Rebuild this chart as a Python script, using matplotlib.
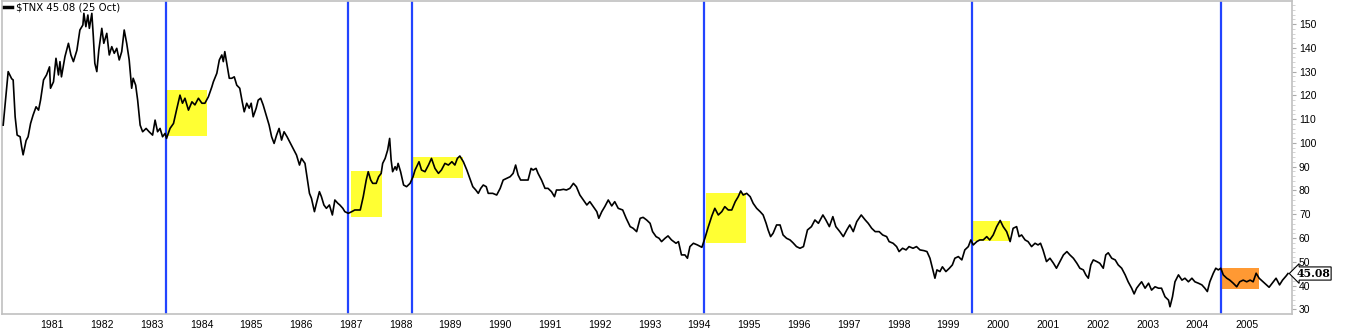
import matplotlib
matplotlib.use('Agg')
import matplotlib.pyplot as plt
from matplotlib.patches import Rectangle
from matplotlib.ticker import MultipleLocator

# $TNX (10y yield x10); x in decimal years
years = [
    1980.02, 1980.12, 1980.19, 1980.22, 1980.26, 1980.30, 1980.36, 1980.39, 1980.42, 1980.48,
    1980.52, 1980.57, 1980.62, 1980.68, 1980.73, 1980.77, 1980.83, 1980.89, 1980.95, 1980.97,
    1981.03, 1981.08, 1981.13, 1981.16, 1981.19, 1981.26, 1981.33, 1981.38, 1981.43, 1981.50,
    1981.56, 1981.62, 1981.64, 1981.68, 1981.72, 1981.75, 1981.80, 1981.83, 1981.86, 1981.90,
    1981.94, 1982.00, 1982.04, 1982.10, 1982.15, 1982.20, 1982.25, 1982.30, 1982.35, 1982.40,
    1982.45, 1982.50, 1982.55, 1982.60, 1982.63, 1982.68, 1982.72, 1982.77, 1982.82, 1982.89,
    1982.95, 1983.02, 1983.07, 1983.12, 1983.17, 1983.22, 1983.27, 1983.30, 1983.37, 1983.44,
    1983.50, 1983.57, 1983.62, 1983.67, 1983.74, 1983.81, 1983.87, 1983.94, 1984.01, 1984.07,
    1984.14, 1984.21, 1984.24, 1984.31, 1984.36, 1984.41, 1984.44, 1984.47, 1984.51, 1984.56,
    1984.61, 1984.66, 1984.71, 1984.77, 1984.82, 1984.86, 1984.91, 1984.96, 1985.00, 1985.04,
    1985.10, 1985.14, 1985.19, 1985.24, 1985.31, 1985.36, 1985.41, 1985.46, 1985.51, 1985.56,
    1985.61, 1985.66, 1985.72, 1985.79, 1985.86, 1985.91, 1985.97, 1986.01, 1986.08, 1986.11,
    1986.17, 1986.21, 1986.27, 1986.31, 1986.37, 1986.41, 1986.46, 1986.51, 1986.57, 1986.63,
    1986.68, 1986.74, 1986.78, 1986.84, 1986.88, 1986.95, 1987.02, 1987.08, 1987.19, 1987.25,
    1987.31, 1987.35, 1987.40, 1987.44, 1987.51, 1987.56, 1987.61, 1987.64, 1987.69, 1987.74,
    1987.78, 1987.81, 1987.84, 1987.89, 1987.92, 1987.95, 1988.00, 1988.06, 1988.12, 1988.19,
    1988.25, 1988.29, 1988.37, 1988.42, 1988.49, 1988.56, 1988.62, 1988.69, 1988.76, 1988.82,
    1988.89, 1988.96, 1989.03, 1989.09, 1989.14, 1989.19, 1989.26, 1989.33, 1989.39, 1989.45,
    1989.51, 1989.56, 1989.61, 1989.66, 1989.72, 1989.76, 1989.85, 1989.93, 1990.00, 1990.06,
    1990.13, 1990.20, 1990.26, 1990.31, 1990.36, 1990.41, 1990.50, 1990.56, 1990.62, 1990.66,
    1990.72, 1990.76, 1990.83, 1990.90, 1990.96, 1991.03, 1991.09, 1991.13, 1991.20, 1991.27,
    1991.33, 1991.40, 1991.47, 1991.53, 1991.60, 1991.67, 1991.74, 1991.80, 1991.87, 1991.94,
    1991.98, 1992.04, 1992.10, 1992.17, 1992.24, 1992.30, 1992.37, 1992.46, 1992.53, 1992.61,
    1992.67, 1992.74, 1992.81, 1992.87, 1992.94, 1993.01, 1993.06, 1993.13, 1993.19, 1993.24,
    1993.31, 1993.37, 1993.44, 1993.53, 1993.58, 1993.64, 1993.71, 1993.76, 1993.81, 1993.88,
    1993.96, 1994.05, 1994.11, 1994.18, 1994.25, 1994.31, 1994.38, 1994.45, 1994.51, 1994.58,
    1994.65, 1994.72, 1994.78, 1994.83, 1994.88, 1994.95, 1995.02, 1995.08, 1995.15, 1995.22,
    1995.28, 1995.34, 1995.38, 1995.43, 1995.48, 1995.55, 1995.62, 1995.68, 1995.75, 1995.82,
    1995.88, 1995.95, 1996.02, 1996.09, 1996.17, 1996.25, 1996.32, 1996.39, 1996.48, 1996.54,
    1996.61, 1996.68, 1996.74, 1996.82, 1996.89, 1996.96, 1997.02, 1997.09, 1997.16, 1997.25,
    1997.33, 1997.39, 1997.46, 1997.53, 1997.61, 1997.68, 1997.76, 1997.81, 1997.89, 1997.96,
    1998.01, 1998.08, 1998.15, 1998.21, 1998.29, 1998.36, 1998.43, 1998.51, 1998.57, 1998.63,
    1998.68, 1998.73, 1998.77, 1998.83, 1998.88, 1998.95, 1999.02, 1999.08, 1999.13, 1999.20,
    1999.27, 1999.33, 1999.40, 1999.45, 1999.50, 1999.57, 1999.63, 1999.70, 1999.77, 1999.83,
    1999.90, 1999.97, 2000.04, 2000.10, 2000.17, 2000.24, 2000.30, 2000.37, 2000.42, 2000.47,
    2000.54, 2000.60, 2000.67, 2000.74, 2000.80, 2000.85, 2000.90, 2000.97, 2001.04, 2001.11,
    2001.17, 2001.24, 2001.31, 2001.38, 2001.44, 2001.51, 2001.58, 2001.64, 2001.71, 2001.76,
    2001.81, 2001.86, 2001.91, 2001.98, 2002.04, 2002.11, 2002.16, 2002.21, 2002.28, 2002.35,
    2002.41, 2002.48, 2002.55, 2002.61, 2002.68, 2002.73, 2002.78, 2002.83, 2002.88, 2002.95,
    2003.02, 2003.08, 2003.15, 2003.22, 2003.28, 2003.35, 2003.42, 2003.45, 2003.50, 2003.55,
    2003.62, 2003.69, 2003.75, 2003.82, 2003.89, 2003.95, 2004.02, 2004.09, 2004.15, 2004.20,
    2004.25, 2004.32, 2004.37, 2004.42, 2004.47, 2004.52, 2004.59, 2004.65, 2004.72, 2004.79,
    2004.85, 2004.92, 2004.99, 2005.06, 2005.12, 2005.18, 2005.24, 2005.32, 2005.39, 2005.44,
    2005.51, 2005.58, 2005.65, 2005.71, 2005.78, 2005.82,
]
tnx = [
    107.5, 130.0, 127.0, 126.5, 111.0, 103.3, 102.6, 98.4, 95.0, 101.0,
    102.6, 108.2, 111.7, 115.2, 113.8, 118.0, 126.5, 128.6, 132.0, 123.0,
    125.7, 135.6, 128.6, 134.2, 127.8, 136.3, 141.9, 137.0, 134.2, 139.0,
    147.5, 149.6, 154.5, 148.9, 153.8, 148.2, 154.5, 144.7, 133.5, 130.0,
    139.0, 148.2, 141.9, 146.1, 137.0, 140.5, 137.7, 139.8, 134.9, 138.4,
    147.5, 141.9, 134.9, 123.0, 127.2, 124.3, 118.0, 107.5, 104.7, 106.1,
    104.7, 103.3, 109.6, 104.7, 106.1, 102.6, 104.0, 101.9, 106.1, 108.2,
    113.8, 120.1, 116.7, 118.8, 113.8, 117.3, 116.0, 118.8, 116.7, 116.7,
    119.4, 123.6, 125.7, 129.3, 134.9, 137.0, 134.2, 138.4, 133.5, 127.2,
    127.2, 127.8, 124.3, 123.0, 117.3, 113.1, 116.7, 114.6, 116.7, 111.0,
    114.6, 118.0, 118.8, 116.0, 111.0, 107.5, 102.6, 99.8, 103.3, 106.1,
    101.2, 104.7, 102.6, 99.8, 97.0, 94.9, 90.7, 93.5, 91.4, 87.2,
    78.8, 76.7, 71.1, 74.6, 79.5, 77.4, 73.9, 72.5, 73.9, 69.7,
    76.0, 74.6, 73.9, 72.5, 71.1, 70.4, 71.1, 71.8, 71.8, 77.4,
    84.4, 87.9, 84.4, 83.0, 83.0, 85.8, 87.2, 91.4, 93.5, 97.0,
    101.9, 92.8, 87.9, 90.0, 88.6, 91.4, 87.9, 82.3, 81.6, 83.0,
    85.8, 88.6, 92.1, 88.6, 87.9, 90.7, 93.5, 89.3, 87.2, 88.6,
    91.4, 90.7, 92.1, 90.7, 93.5, 94.5, 92.1, 88.6, 85.1, 81.6,
    80.2, 78.8, 80.9, 82.3, 81.6, 78.8, 78.8, 78.1, 80.9, 84.4,
    85.1, 85.8, 87.2, 90.7, 86.5, 84.4, 84.4, 84.4, 89.3, 88.6,
    89.3, 87.2, 84.4, 80.9, 80.9, 79.5, 77.4, 80.2, 80.2, 80.5,
    80.2, 80.9, 83.0, 81.6, 78.1, 76.0, 73.9, 75.3, 73.2, 71.1,
    68.3, 71.1, 73.2, 76.0, 73.5, 75.3, 72.5, 71.8, 68.3, 64.8,
    64.1, 62.7, 68.3, 68.7, 67.6, 66.2, 62.7, 60.6, 59.9, 58.5,
    59.9, 60.9, 59.2, 57.8, 58.5, 52.9, 52.9, 51.5, 56.4, 57.8,
    57.1, 56.1, 59.9, 64.8, 69.3, 72.5, 69.7, 71.1, 73.2, 71.8,
    71.8, 75.3, 77.4, 79.8, 78.1, 78.8, 77.4, 74.6, 72.5, 71.1,
    69.7, 66.2, 63.4, 60.6, 62.0, 65.5, 65.5, 61.3, 59.9, 59.2,
    58.0, 56.4, 55.7, 56.4, 63.4, 64.8, 67.6, 66.2, 69.7, 67.6,
    64.8, 69.0, 64.8, 62.7, 60.6, 63.4, 65.5, 62.7, 66.9, 69.7,
    67.6, 66.2, 64.1, 62.7, 62.7, 61.3, 60.6, 58.5, 57.8, 56.4,
    54.3, 55.7, 55.0, 56.4, 55.7, 56.4, 55.0, 54.7, 54.3, 51.5,
    47.3, 43.1, 46.6, 45.9, 47.9, 45.9, 47.3, 48.7, 51.5, 52.2,
    50.8, 55.0, 56.4, 59.2, 57.1, 58.5, 59.2, 59.2, 60.6, 59.2,
    61.3, 64.8, 67.4, 64.8, 62.7, 58.5, 64.1, 64.8, 60.6, 61.3,
    59.2, 58.5, 56.4, 57.8, 57.1, 57.8, 55.0, 50.1, 51.5, 49.4,
    47.3, 50.1, 52.9, 54.3, 52.9, 51.5, 49.4, 47.3, 46.6, 44.5,
    43.1, 48.7, 50.8, 50.1, 49.4, 47.3, 52.9, 53.8, 51.5, 50.8,
    48.7, 47.3, 44.5, 41.6, 38.9, 36.5, 38.9, 40.3, 41.6, 38.9,
    41.0, 38.1, 39.5, 38.9, 38.9, 35.3, 33.9, 31.1, 35.3, 41.6,
    44.5, 42.3, 43.1, 41.6, 43.1, 41.6, 41.0, 40.3, 38.9, 37.5,
    41.6, 45.2, 47.3, 46.6, 47.3, 44.5, 43.1, 42.3, 41.0, 39.5,
    41.6, 42.3, 41.6, 42.3, 41.6, 45.2, 43.1, 41.6, 40.3, 39.3,
    41.2, 43.1, 40.3, 42.3, 44.0, 45.08,
]

last_value = 45.08
legend_label = '$TNX 45.08 (25 Oct)'

# blue vertical markers
vline_years = [1983.29, 1986.94, 1988.22, 1994.09, 1999.47, 2004.47]

# highlighted boxes
box_start = [1983.30, 1987.00, 1988.23, 1994.13, 1999.50, 2004.47]
box_end = [1984.11, 1987.62, 1989.25, 1994.93, 2000.24, 2005.24]
box_low = [103.0, 68.7, 85.4, 57.9, 58.7, 38.6]
box_high = [122.2, 88.3, 94.1, 78.9, 67.3, 47.5]
box_colors = ['#ffff33', '#ffff33', '#ffff33', '#ffff33', '#ffff33', '#ff9933']

year_ticks = list(range(1981, 2006))
y_ticks = list(range(30, 151, 10))

fig = plt.figure(figsize=(13.49, 3.30), dpi=100)
ax = fig.add_axes([2 / 1349, 16 / 330, 1290 / 1349, 313 / 330])

for x0, x1, lo, hi, c in zip(box_start, box_end, box_low, box_high, box_colors):
    ax.add_patch(Rectangle((x0, lo), x1 - x0, hi - lo, facecolor=c, edgecolor='none', zorder=1))

for xv in vline_years:
    ax.axvline(xv, color='#2244ff', lw=1.6, zorder=2)

ax.plot(years, tnx, color='black', lw=1.2, zorder=3, label=legend_label)

ax.set_xlim(1979.996, 2005.90)
ax.set_ylim(28.05, 159.7)

ax.yaxis.tick_right()
ax.set_yticks(y_ticks)
ax.set_yticklabels([str(v) for v in y_ticks], fontsize=7.5, family='Liberation Sans')
ax.yaxis.set_minor_locator(MultipleLocator(2))
ax.tick_params(axis='y', which='major', length=3, color='#aaaaaa', pad=2)
ax.tick_params(axis='y', which='minor', length=2, color='#cccccc')

ax.set_xticks(year_ticks)
ax.set_xticklabels([str(y) for y in year_ticks], fontsize=7.5, family='Liberation Sans')
ax.tick_params(axis='x', length=0, pad=4)

for s in ax.spines.values():
    s.set_color('#c0c0c0')
    s.set_linewidth(1.2)

# legend at top left
ax.legend(loc='upper left', frameon=False, handlelength=0.8,
          handletextpad=0.4, borderaxespad=0.0, borderpad=0.15,
          prop={'family': 'DejaVu Sans', 'size': 7.3})
leg = ax.get_legend()
for h in leg.get_lines():
    h.set_linewidth(2.5)

# last value tag
ax.annotate(f'{last_value:.2f}', xy=(1, last_value), xycoords=('axes fraction', 'data'),
            xytext=(3, 0), textcoords='offset points', va='center', ha='left',
            fontsize=7.8, fontweight='bold', family='DejaVu Serif',
            bbox=dict(boxstyle='larrow,pad=0.1', facecolor='white', edgecolor='black', lw=0.8),
            annotation_clip=False)

fig.savefig('out.png', dpi=100)
